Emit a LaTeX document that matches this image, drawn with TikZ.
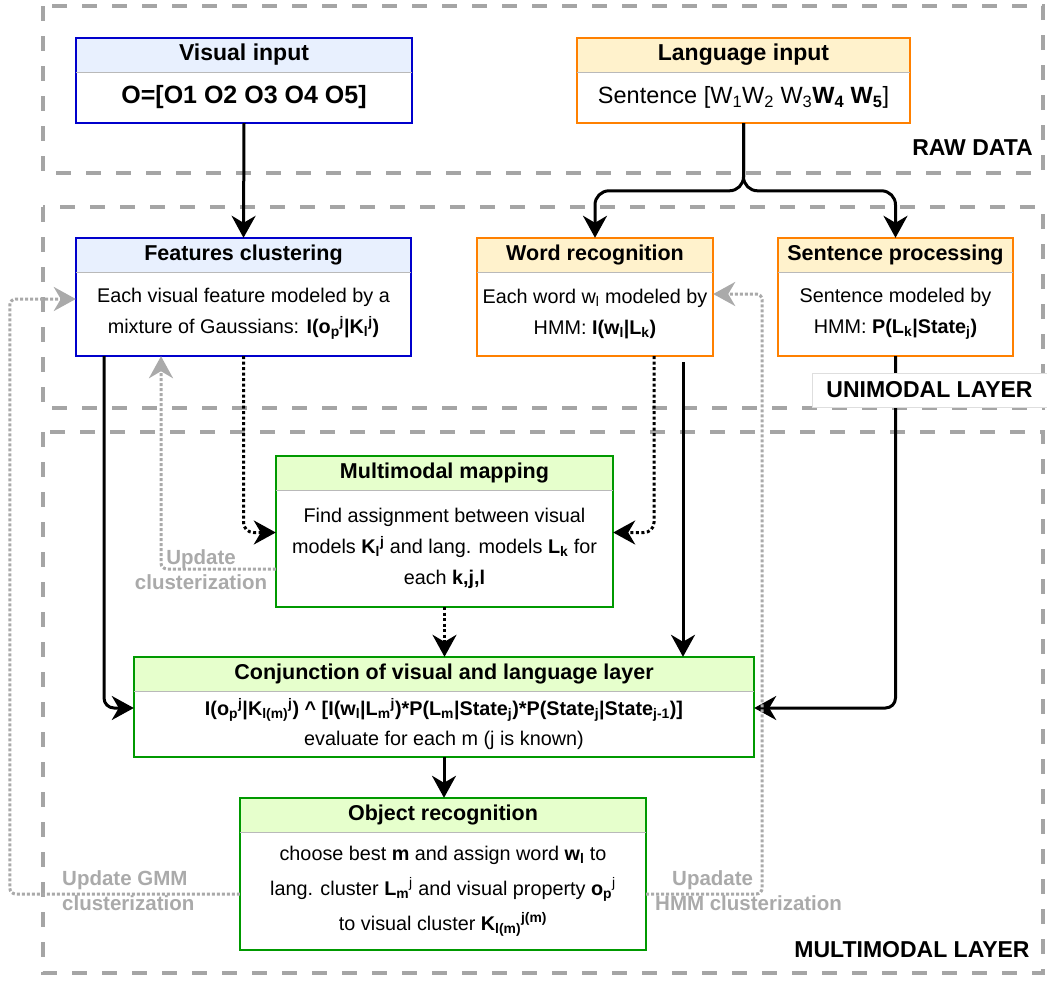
\documentclass[tikz,border=0pt]{standalone}
\usepackage{fontspec}
\setmainfont{Liberation Sans}
\usetikzlibrary{arrows.meta,calc}

\definecolor{visblue}{RGB}{0,0,204}
\definecolor{vishead}{RGB}{232,240,254}
\definecolor{langorange}{RGB}{255,128,0}
\definecolor{langhead}{RGB}{255,242,204}
\definecolor{mmgreen}{RGB}{0,153,0}
\definecolor{mmhead}{RGB}{230,255,204}
\definecolor{layergray}{RGB}{165,165,165}
\definecolor{fbgray}{RGB}{170,170,170}
\definecolor{divgray}{RGB}{185,185,185}
\definecolor{lblframe}{RGB}{222,222,222}

\tikzset{
  boxhead/.style={fill=#1, minimum height=34pt, inner sep=0pt,
    font=\fontsize{21.5pt}{26pt}\selectfont\bfseries},
  boxbody/.style={inner sep=0pt, align=center,
    font=\fontsize{19.8pt}{31pt}\selectfont},
  boxframe/.style={draw=#1, line width=2.5pt, line join=miter},
  divider/.style={draw=divgray, line width=1pt},
  layer/.style={draw=layergray, line width=4pt, dash pattern=on 15pt off 15pt},
  layerlabel/.style={inner sep=0pt, font=\fontsize{23pt}{28pt}\selectfont\bfseries},
  flow/.style={draw=black, line width=3pt, rounded corners=10pt,
    -{Stealth[length=22pt,width=24pt,inset=7pt]}},
  dotflow/.style={flow, dash pattern=on 3pt off 2.5pt},
  fbflow/.style={draw=fbgray, line width=3pt, rounded corners=6pt,
    dash pattern=on 3pt off 2pt,
    -{Stealth[length=22pt,width=24pt,inset=7pt,fill=fbgray]}},
  fblabel/.style={inner sep=0pt, text=fbgray, align=center,
    font=\fontsize{20.5pt}{25pt}\selectfont\bfseries},
}

\begin{document}
\begin{tikzpicture}[x=1pt,y=-1pt]
\useasboundingbox (0,0) rectangle (1047,983);

% processing layers
\draw[layer] (43,6) rectangle (1043,173);
\draw[layer] (43,207) rectangle (1043,408);
\draw[layer] (43,432) rectangle (1043,973);

% raw data
\node[boxhead=vishead, minimum width=336pt, font=\fontsize{23pt}{28pt}\selectfont\bfseries] (vish) at (244,55) {Visual input};
\node[boxbody, minimum width=336pt, minimum height=51pt, font=\fontsize{25pt}{30pt}\selectfont\bfseries] (visb) at (244,97.5) {O=[O1 O2 O3 O4 O5]};
\draw[boxframe=visblue] (vish.north west) rectangle (visb.south east);
\draw[divider] (vish.south west) -- (vish.south east);

\node[boxhead=langhead, minimum width=333pt, font=\fontsize{23pt}{28pt}\selectfont\bfseries] (langh) at (743.5,55) {Language input};
\node[boxbody, minimum width=333pt, minimum height=51pt, font=\fontsize{23.5pt}{28pt}\selectfont] (langb) at (743.5,97.5) {Sentence [W\textsubscript{1}W\textsubscript{2} W\textsubscript{3}\textbf{W\textsubscript{4} W\textsubscript{5}}]};
\draw[boxframe=langorange] (langh.north west) rectangle (langb.south east);
\draw[divider] (langh.south west) -- (langh.south east);

% unimodal layer
\node[boxhead=vishead, minimum width=335pt] (feath) at (243.5,255) {Features clustering};
\node[boxbody, minimum width=335pt, minimum height=84pt] (featb) at (243.5,314) {Each visual feature modeled by a\\mixture of Gaussians: \textbf{I(o\textsubscript{p}\textsuperscript{j}|K\textsubscript{l}\textsuperscript{j})}};
\draw[boxframe=visblue] (feath.north west) rectangle (featb.south east);
\draw[divider] (feath.south west) -- (feath.south east);

\node[boxhead=langhead, minimum width=236pt] (wordh) at (595,255) {Word recognition};
\node[boxbody, minimum width=236pt, minimum height=84pt] (wordb) at (595,314) {Each word w\textsubscript{l} modeled by\\HMM: \textbf{I(w\textsubscript{l}|L\textsubscript{k})}};
\draw[boxframe=langorange] (wordh.north west) rectangle (wordb.south east);
\draw[divider] (wordh.south west) -- (wordh.south east);

\node[boxhead=langhead, minimum width=235pt] (senth) at (895.5,255) {Sentence processing};
\node[boxbody, minimum width=235pt, minimum height=84pt] (sentb) at (895.5,314) {Sentence modeled by\\HMM: \textbf{P(L\textsubscript{k}|State\textsubscript{j})}};
\draw[boxframe=langorange] (senth.north west) rectangle (sentb.south east);
\draw[divider] (senth.south west) -- (senth.south east);

% multimodal layer
\node[boxhead=mmhead, minimum width=337pt] (maph) at (444.5,473) {Multimodal mapping};
\node[boxbody, minimum width=337pt, minimum height=117pt] (mapb) at (444.5,548.5) {Find assignment between visual\\models \textbf{K\textsubscript{l}\textsuperscript{j}} and lang. models \textbf{L\textsubscript{k}} for\\each \textbf{k,j,l}};
\draw[boxframe=mmgreen] (maph.north west) rectangle (mapb.south east);
\draw[divider] (maph.south west) -- (maph.south east);

\node[boxhead=mmhead, minimum width=620pt] (conjh) at (444,674) {Conjunction of visual and language layer};
\node[boxbody, minimum width=620pt, minimum height=66pt, font=\fontsize{19.8pt}{30pt}\selectfont] (conjb) at (444,724) {\textbf{I(o\textsubscript{p}\textsuperscript{j}|K\textsubscript{l(m)}\textsuperscript{j}) \textasciicircum{} [I(w\textsubscript{l}|L\textsubscript{m}\textsuperscript{j})*P(L\textsubscript{m}|State\textsubscript{j})*P(State\textsubscript{j}|State\textsubscript{j-1})]}\\evaluate for each m (j is known)};
\draw[boxframe=mmgreen] (conjh.north west) rectangle (conjb.south east);
\draw[divider] (conjh.south west) -- (conjh.south east);

\node[boxhead=mmhead, minimum width=406pt] (objh) at (443,815) {Object recognition};
\node[boxbody, minimum width=406pt, minimum height=118pt, font=\fontsize{19.8pt}{35pt}\selectfont] (objb) at (443,891) {choose best \textbf{m} and assign word \textbf{w\textsubscript{l}} to\\lang. cluster \textbf{L\textsubscript{m}}\textsuperscript{j} and visual property \textbf{o\textsubscript{p}}\textsuperscript{j}\\to visual cluster \textbf{K\textsubscript{l(m)}\textsuperscript{j(m)}}};
\draw[boxframe=mmgreen] (objh.north west) rectangle (objb.south east);
\draw[divider] (objh.south west) -- (objh.south east);

% data flow
\draw[flow] (visb.south) -- (feath.north);
\draw[flow, rounded corners=14pt] (langb.south) |- ([yshift=47pt]wordh.north) -- (wordh.north);
\draw[flow, rounded corners=14pt] (langb.south) |- ([yshift=47pt]senth.north) -- (senth.north);
\draw[flow] ([xshift=-139.5pt]featb.south) |- ([yshift=16pt]conjb.west);
\draw[flow] (sentb.south) |- ([yshift=16pt]conjb.east);
\draw[flow] ([xshift=88pt,yshift=-6pt]wordb.south) -- ([xshift=88pt]wordb.south |- conjh.north);
\draw[dotflow] (featb.south) |- ([yshift=16pt]mapb.west);
\draw[dotflow] ([xshift=59pt]wordb.south) |- ([yshift=16pt]mapb.east);
\draw[dotflow] (mapb.south) -- (mapb.south |- conjh.north);
\draw[flow] (conjb.south) -- (conjb.south |- objh.north);

% feedback updates
\draw[fbflow] ([yshift=-20.5pt]mapb.west) -| ([xshift=-82.5pt]featb.south);
\draw[fbflow] ([yshift=-3pt]objb.west) -| ([xshift=-66pt,yshift=15pt]featb.west) -- ([yshift=15pt]featb.west);
\draw[fbflow] ([yshift=-3pt]objb.east) -| ([xshift=49pt,yshift=20pt]wordb.east) -- ([yshift=20pt]wordb.east);

\node[fblabel] (updclu) at (201,569.5) {Update\\clusterization};
\node[fblabel, anchor=west, align=left] (updgmm) at (62,890.5) {Update GMM\\clusterization};
\node[fblabel, anchor=west, align=left] (updhmm) at (655,890.5) {\hspace*{17pt}Upadate\\HMM clusterization};

% layer captions
\node[layerlabel, anchor=east] (rawlbl) at (1033,148) {RAW DATA};
\node[layerlabel, fill=white, draw=lblframe, line width=1pt, minimum width=235pt, minimum height=34pt] (unilbl) at (929.5,390) {UNIMODAL LAYER};
\node[layerlabel] (multilbl) at (912,950) {MULTIMODAL LAYER};
\end{tikzpicture}
\end{document}
